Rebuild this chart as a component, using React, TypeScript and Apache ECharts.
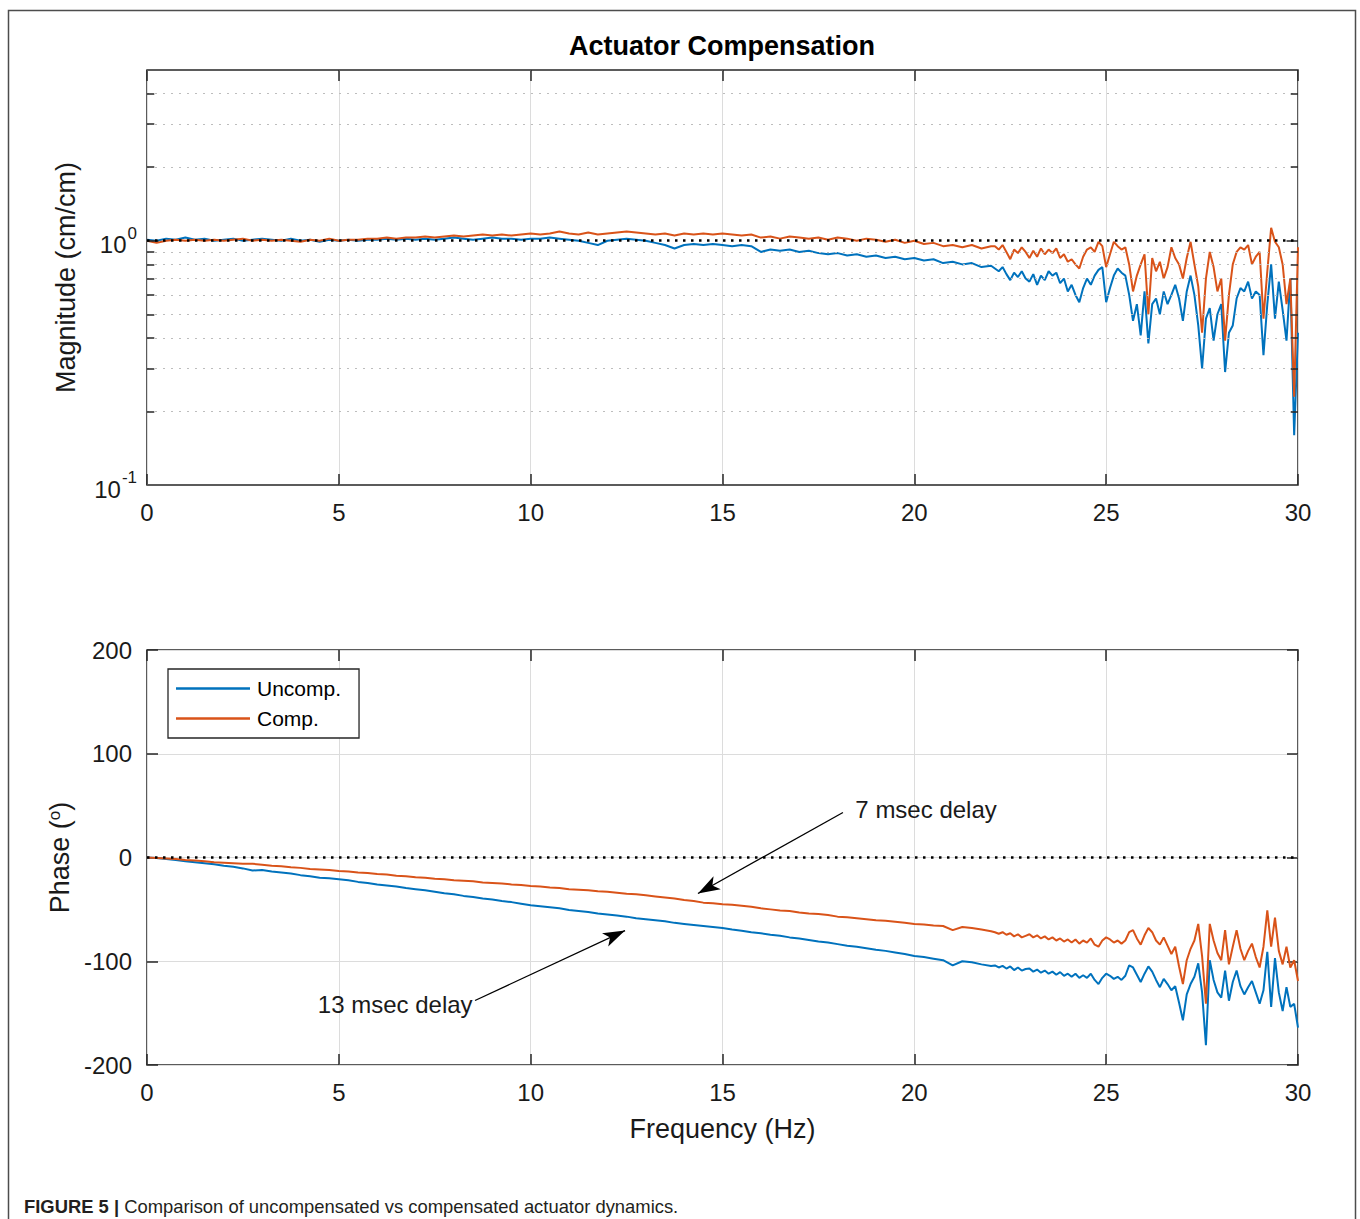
import React, { useEffect, useRef } from 'react';
import * as echarts from 'echarts';

// ---------- frequency grid (Hz): 0.25 Hz steps to 22 Hz, 0.1 Hz steps above ----------
const freqLow: number[] = Array.from({ length: 89 }, (_, i) => i * 0.25);
const freqHigh: number[] = Array.from({ length: 80 }, (_, i) => Math.round((22.1 + i * 0.1) * 10) / 10);
const frequencies: number[] = [...freqLow, ...freqHigh];

// ---------- magnitude (cm/cm) ----------
const magUncompLow = [
  1.01, 1.0, 1.02, 1.01, 1.03, 1.01, 1.02, 1.0, 1.01, 1.02,
  1.0, 1.01, 1.02, 1.01, 1.0, 1.02, 1.0, 1.01, 0.99, 1.01,
  1.0, 1.01, 1.0, 1.01, 1.01, 1.02, 1.01, 1.02, 1.01, 1.02,
  1.01, 1.02, 1.03, 1.02, 1.01, 1.02, 1.03, 1.02, 1.02, 1.01,
  1.02,
  1.02, 1.03, 1.02, 1.01, 1.0, 0.98, 0.96, 1.0, 1.01, 1.02,
  1.01, 1.0, 0.98, 0.96, 0.93, 0.96, 0.97, 0.96, 0.97, 0.96,
  0.95, 0.96, 0.95, 0.9, 0.92, 0.91, 0.92, 0.9, 0.91, 0.89,
  0.88, 0.89, 0.87, 0.88, 0.86, 0.87, 0.85, 0.86, 0.84, 0.85,
  0.83, 0.84, 0.81, 0.82, 0.8, 0.81, 0.78, 0.79,
];
const magUncompHigh = [
  0.77, 0.75, 0.78, 0.73, 0.69, 0.74, 0.71, 0.75, 0.7, 0.68,
  0.73, 0.66, 0.72, 0.69, 0.75, 0.72, 0.74, 0.67, 0.7, 0.62,
  0.66, 0.6, 0.56, 0.64, 0.7, 0.66, 0.72, 0.76, 0.78, 0.56,
  0.64, 0.72, 0.77, 0.74, 0.72, 0.6, 0.47, 0.55, 0.41, 0.62,
  0.38, 0.55, 0.58, 0.5, 0.62, 0.55, 0.6, 0.66, 0.58, 0.47,
  0.62, 0.72, 0.6, 0.45, 0.3, 0.48, 0.53, 0.39, 0.5, 0.55,
  0.29, 0.42, 0.45, 0.58, 0.64, 0.62, 0.68, 0.58, 0.62, 0.6,
  0.34, 0.55, 0.8, 0.48, 0.68, 0.52, 0.39, 0.7, 0.16, 0.42,
];
const magCompLow = [
  1.0, 0.98, 1.0, 1.01, 1.0, 1.01, 1.0, 1.01, 1.0, 1.01,
  1.02, 1.0, 1.01, 1.0, 1.01, 1.0, 0.99, 1.01, 1.0, 1.02,
  1.0, 1.01, 1.01, 1.02, 1.02, 1.03, 1.02, 1.03, 1.03, 1.04,
  1.03, 1.04, 1.05, 1.04, 1.05, 1.06, 1.05, 1.06, 1.05, 1.06,
  1.07,
  1.06, 1.07, 1.09, 1.07, 1.06, 1.08, 1.06, 1.07, 1.08, 1.09,
  1.08, 1.07, 1.06, 1.07, 1.05, 1.07, 1.06, 1.07, 1.06, 1.07,
  1.06, 1.05, 1.06, 1.03, 1.04, 1.02, 1.04, 1.03, 1.02, 1.03,
  1.01, 1.03, 1.02, 1.0, 1.02, 1.01, 0.99, 1.01, 0.98, 1.0,
  0.97, 0.98, 0.95, 0.96, 0.94, 0.96, 0.93, 0.95,
];
const magCompHigh = [
  0.95, 0.92, 0.96, 0.9, 0.84, 0.92, 0.89, 0.94, 0.9, 0.85,
  0.91, 0.86, 0.93, 0.88, 0.92, 0.89, 0.93, 0.85, 0.88, 0.82,
  0.84, 0.8, 0.77, 0.86, 0.92, 0.94, 0.9, 0.99, 0.95, 0.78,
  0.88, 0.99, 0.95, 0.92, 0.94, 0.8, 0.62, 0.72, 0.8, 0.88,
  0.5, 0.85, 0.75, 0.82, 0.7, 0.78, 0.94, 0.85, 0.8, 0.7,
  0.85, 0.99, 0.8, 0.65, 0.42, 0.7, 0.9, 0.78, 0.62, 0.7,
  0.39, 0.6, 0.8, 0.9, 0.94, 0.92, 0.96, 0.8, 0.86, 0.9,
  0.48, 0.75, 1.13, 0.99, 0.94, 0.8, 0.55, 0.7, 0.23, 0.94,
];

// ---------- phase (degrees) ----------
const phaseUncompLow = [
  0, -0.5, -1.5, -2.5, -3.5, -4.5, -5.5, -6.5, -8, -9,
  -10.5, -12.5, -12, -13.5, -14.5, -15.5, -17, -18, -19.5, -20,
  -21, -22, -23.5, -24.5, -26, -27, -28, -29.5, -30.5, -31.5,
  -33, -34.5, -35.5, -37, -38, -39.5, -40.5, -42, -43, -44.5,
  -46,
  -47, -48, -49, -50.5, -51.5, -52.5, -54, -55, -56, -57,
  -58.5, -59.5, -60.5, -61.5, -63, -64, -65, -66, -67, -68,
  -69.5, -70.5, -72, -73, -74.5, -75.5, -77, -78, -79.5, -81,
  -82, -83.5, -85, -86, -87.5, -89, -90, -91.5, -93, -95,
  -96, -97.5, -99, -104, -100, -101, -103, -104.5,
];
const phaseUncompHigh = [
  -104, -106, -104.5, -107, -105, -108.5, -106, -109, -107.5, -107,
  -110, -108, -111, -109, -112, -110, -113, -110.5, -114, -112,
  -115, -112, -116, -113.5, -116, -112, -118, -122, -116, -112,
  -114, -117, -115, -118, -114, -104, -106, -113, -120, -112,
  -105, -110, -118, -125, -117, -122, -128, -124, -140, -157,
  -132, -122, -115, -102, -130, -181, -99, -118, -130, -135,
  -109, -138, -120, -109, -124, -132, -125, -119, -130, -141,
  -128, -91, -144, -97, -130, -148, -125, -144, -141, -164,
];
const phaseCompLow = [
  0, -0.5, -1, -1.5, -2.5, -3, -3.5, -4.5, -5, -5.5,
  -6, -6, -7, -8, -8.5, -9.5, -10, -11, -11.5, -12,
  -13, -13.5, -14.5, -15, -16, -16.5, -17.5, -18, -19, -19.5,
  -20.5, -21, -22, -22.5, -23, -24, -24.5, -25, -26, -26.5,
  -27.5,
  -28, -29, -29.5, -30.5, -31, -31.5, -32.5, -33, -34, -35,
  -35.5, -36.5, -37.5, -38.5, -39.5, -41, -42, -43.5, -44, -45,
  -45.5, -46.5, -47.5, -49, -50, -51, -51.5, -53, -54, -54.5,
  -55.5, -57, -57.5, -58.5, -59.5, -60.5, -61, -62, -63, -64,
  -64.5, -65.5, -66, -70, -67, -68, -69.5, -71,
];
const phaseCompHigh = [
  -72, -73.5, -72, -74.5, -73, -76, -74, -77, -75.5, -74,
  -77, -75, -78, -76, -79, -77, -80, -78, -81, -79,
  -82, -79, -83, -80, -82, -78, -84, -86, -80, -77,
  -79, -82, -80, -83, -80, -72, -70, -78, -84, -75,
  -68, -72, -80, -84, -77, -85, -93, -86, -105, -122,
  -99, -88, -80, -64, -95, -141, -64, -80, -92, -99,
  -70, -103, -86, -70, -88, -99, -90, -83, -96, -106,
  -86, -51, -86, -58, -90, -103, -86, -106, -99, -119,
];

// ---------- axes / annotations ----------
const seriesNames = ['Uncomp.', 'Comp.'];
const xTickInterval = 5;
const phaseTickInterval = 100;
const magMinorGrid = [0.2, 0.3, 0.4, 0.5, 0.6, 0.7, 0.8, 0.9, 2, 3, 4];
const annotations = [
  { text: '7 msec delay', from: [18.14, 43.4], to: [14.36, -34.7], textAt: [18.45, 46.3], side: 'right' },
  { text: '13 msec delay', from: [8.55, -137.8], to: [12.46, -70.4], textAt: [8.5, -141.7], side: 'left' },
];

const BLUE = '#0072BD';
const ORANGE = '#D95319';
const AXIS = '#262626';
const TEXT = '#1a1a1a';
const FONT = '"Liberation Sans", Arial, Helvetica, sans-serif';

const pair = (ys: number[]) => frequencies.map((f, i) => [f, ys[i]]);

function buildOption(): any {
  const magUncomp = pair([...magUncompLow, ...magUncompHigh]);
  const magComp = pair([...magCompLow, ...magCompHigh]);
  const phUncomp = pair([...phaseUncompLow, ...phaseUncompHigh]);
  const phComp = pair([...phaseCompLow, ...phaseCompHigh]);

  const tickStyle = { color: AXIS, width: 1.5 };
  const xAxisCommon = {
    type: 'value', min: 0, max: 30, interval: xTickInterval,
    axisLine: { show: false, onZero: false },
    axisTick: { show: true, inside: true, length: 11, lineStyle: tickStyle },
  };
  const xLabel = { fontSize: 24, color: TEXT, fontFamily: FONT, margin: 15 };

  const minorTickLines: any[] = [];
  magMinorGrid.forEach((v) => {
    minorTickLines.push([{ coord: [0, v] }, { coord: [0.19, v] }]);
    minorTickLines.push([{ coord: [29.81, v] }, { coord: [30, v] }]);
  });
  minorTickLines.push([{ coord: [0, 1] }, { coord: [0.3, 1] }]);
  minorTickLines.push([{ coord: [29.7, 1] }, { coord: [30, 1] }]);

  const lineSeries = (name: string, data: any[], color: string, xi: number, yi: number) => ({
    type: 'line', name, data, xAxisIndex: xi, yAxisIndex: yi,
    showSymbol: false, symbol: 'none', silent: true, z: 3,
    lineStyle: { width: 2, color }, itemStyle: { color },
  });

  return {
    animation: false,
    backgroundColor: '#ffffff',
    title: {
      text: 'Actuator Compensation',
      left: 717, top: 27, textAlign: 'center',
      textStyle: { fontSize: 27, fontWeight: 'bold', color: '#000', fontFamily: FONT },
    },
    legend: {
      data: seriesNames,
      orient: 'vertical', left: 168, top: 669,
      backgroundColor: '#fff', borderColor: AXIS, borderWidth: 1.3, borderRadius: 0,
      padding: [9, 18, 9, 8], itemGap: 9, itemWidth: 74, itemHeight: 2.5, icon: 'rect',
      selectedMode: false,
      textStyle: { fontSize: 21, color: '#000', fontFamily: FONT, padding: [0, 0, 0, 2] },
    },
    grid: [
      { left: 147, top: 70, width: 1151, height: 415, show: true, borderColor: AXIS, borderWidth: 1.5, backgroundColor: '#fff' },
      { left: 147, top: 650, width: 1151, height: 415, show: true, borderColor: AXIS, borderWidth: 1.5, backgroundColor: '#fff' },
    ],
    xAxis: [
      { ...xAxisCommon, gridIndex: 0, position: 'bottom', axisLabel: xLabel,
        splitLine: { show: true, lineStyle: { color: '#dcdcdc', width: 1 } } },
      { ...xAxisCommon, gridIndex: 0, position: 'top', axisLabel: { show: false }, splitLine: { show: false } },
      { ...xAxisCommon, gridIndex: 1, position: 'bottom', axisLabel: xLabel,
        splitLine: { show: true, lineStyle: { color: '#dcdcdc', width: 1 } },
        name: 'Frequency (Hz)', nameLocation: 'middle', nameGap: 50,
        nameTextStyle: { fontSize: 27, color: TEXT, fontFamily: FONT } },
      { ...xAxisCommon, gridIndex: 1, position: 'top', axisLabel: { show: false }, splitLine: { show: false } },
    ],
    yAxis: [
      {
        gridIndex: 0, type: 'log', logBase: 10, min: 0.1, max: 5, position: 'left',
        axisLine: { show: false, onZero: false }, axisTick: { show: false }, splitLine: { show: false },
        axisLabel: {
          margin: 10,
          formatter: (v: number) => {
            const l = Math.log10(v);
            const e = Math.round(l);
            if (Math.abs(l - e) > 1e-6) return '';
            if (e === 0) return '{b|10}{s|0}';
            if (e === -1) return '{b|10}{s|-1}';
            return '';
          },
          rich: {
            b: { fontSize: 24, color: TEXT, fontFamily: FONT, padding: [8, 0, 0, 0] },
            s: { fontSize: 17, color: TEXT, fontFamily: FONT, verticalAlign: 'top', padding: [0, 0, 0, 1] },
          },
        },
        name: 'Magnitude (cm/cm)', nameLocation: 'middle', nameGap: 68,
        nameTextStyle: { fontSize: 27, color: TEXT, fontFamily: FONT },
      },
      {
        gridIndex: 1, type: 'value', min: -200, max: 200, interval: phaseTickInterval, position: 'left',
        axisLine: { show: false, onZero: false },
        axisTick: { show: true, inside: true, length: 11, lineStyle: tickStyle },
        splitLine: { show: true, lineStyle: { color: '#dcdcdc', width: 1 } },
        axisLabel: { fontSize: 24, color: TEXT, fontFamily: FONT, margin: 15 },
        name: 'Phase ({s|o})', nameLocation: 'middle', nameGap: 70,
        nameTextStyle: {
          fontSize: 27, color: TEXT, fontFamily: FONT,
          rich: { s: { fontSize: 17, color: TEXT, fontFamily: FONT, verticalAlign: 'top' } },
        },
      },
      {
        gridIndex: 1, type: 'value', min: -200, max: 200, interval: phaseTickInterval, position: 'right',
        axisLine: { show: false, onZero: false },
        axisTick: { show: true, inside: true, length: 11, lineStyle: tickStyle },
        splitLine: { show: false }, axisLabel: { show: false },
      },
    ],
    series: [
      // background helpers for the magnitude panel: minor grid + minor ticks
      {
        type: 'line', data: [], xAxisIndex: 0, yAxisIndex: 0, silent: true, z: 1,
        markLine: {
          silent: true, symbol: 'none', label: { show: false }, emphasis: { disabled: true },
          lineStyle: { color: '#bdbdbd', width: 1, type: [2, 6] },
          data: magMinorGrid.map((v) => ({ yAxis: v })),
        },
      },
      {
        type: 'line', data: [], xAxisIndex: 0, yAxisIndex: 0, silent: true, z: 6,
        markLine: {
          silent: true, symbol: 'none', label: { show: false }, emphasis: { disabled: true },
          lineStyle: { color: AXIS, width: 1.5, type: 'solid' },
          data: minorTickLines,
        },
      },
      lineSeries(seriesNames[0], magUncomp, BLUE, 0, 0),
      lineSeries(seriesNames[1], magComp, ORANGE, 0, 0),
      lineSeries(seriesNames[0], phUncomp, BLUE, 2, 1),
      lineSeries(seriesNames[1], phComp, ORANGE, 2, 1),
      // unity magnitude reference (dotted)
      {
        type: 'line', data: [], xAxisIndex: 0, yAxisIndex: 0, silent: true, z: 5,
        markLine: {
          silent: true, symbol: 'none', label: { show: false }, emphasis: { disabled: true },
          lineStyle: { color: '#000', width: 2.5, type: [2.5, 5.5] },
          data: [{ yAxis: 1 }],
        },
      },
      // zero phase reference, arrows and notes
      {
        type: 'line', data: [], xAxisIndex: 2, yAxisIndex: 1, silent: true, z: 5,
        markLine: {
          silent: true, symbol: 'none', label: { show: false }, emphasis: { disabled: true },
          lineStyle: { color: '#000', width: 2.5, type: [2.5, 5.5] },
          data: [
            { yAxis: 0 },
            ...annotations.map((a) => [
              { coord: a.from, symbol: 'none', lineStyle: { color: '#000', width: 1.3, type: 'solid' } },
              { coord: a.to, symbol: 'arrow', symbolSize: [11, 22] },
            ]),
          ],
        },
        markPoint: {
          silent: true, symbol: 'circle', symbolSize: 1,
          itemStyle: { color: 'rgba(0,0,0,0)' },
          data: annotations.map((a) => ({
            name: a.text, coord: a.textAt,
            label: {
              show: true, position: a.side, distance: 0, formatter: '{b}',
              fontSize: 24, color: TEXT, fontFamily: FONT,
            },
          })),
        },
      },
    ],
    graphic: [
      {
        type: 'rect', silent: true, z: -10,
        shape: { x: 8.5, y: 10.5, width: 1347, height: 1230 },
        style: { fill: 'transparent', stroke: '#4d4d4d', lineWidth: 1.5 },
      },
      {
        type: 'text', silent: true, x: 24, y: 1206,
        style: {
          text: '{b|FIGURE 5 |} Comparison of uncompensated vs compensated actuator dynamics.',
          fontSize: 18.4, fontFamily: FONT, fill: '#231f20', verticalAlign: 'middle', align: 'left',
          rich: { b: { fontSize: 18.4, fontWeight: 'bold', fontFamily: FONT, fill: '#231f20' } },
        },
      },
    ],
  };
}

export default function App() {
  const ref = useRef<HTMLDivElement>(null);
  useEffect(() => {
    if (!ref.current) return;
    const chart = echarts.init(ref.current, null, { renderer: 'svg' });
    chart.setOption(buildOption());
    return () => chart.dispose();
  }, []);
  return (
    <div
      ref={ref}
      style={{ position: 'absolute', left: 0, top: 0, width: 1360, height: 1219, background: '#fff' }}
    />
  );
}
